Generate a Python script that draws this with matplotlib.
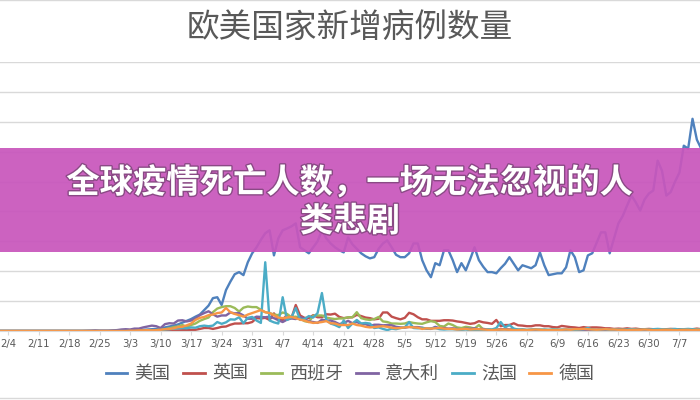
import matplotlib
matplotlib.use("Agg")
import matplotlib.pyplot as plt
import matplotlib.patheffects as pe
from matplotlib.patches import Rectangle
from matplotlib.lines import Line2D
import numpy as np

plt.rcParams['font.family'] = ['Noto Sans CJK SC', 'DejaVu Sans']

# 每日新增病例（千例），从 2/2 开始逐日
days = np.arange(-2, 160)
tick_days = np.arange(0, 155, 7)
tick_labels = ['2/4', '2/11', '2/18', '2/25', '3/3', '3/10', '3/17', '3/24',
               '3/31', '4/7', '4/14', '4/21', '4/28', '5/5', '5/12', '5/19',
               '5/26', '6/2', '6/9', '6/16', '6/23', '6/30', '7/7']

us = [0, 0, 0, 0, 0, 0, 0,
      0, 0, 0, 0, 0, 0, 0,
      0, 0, 0, 0, 0, 0, 0,
      0, 0, 0, 0, 0, 0.05, 0.1,
      0.1, 0.2, 0.2, 0.3, 0.3, 0.4, 0.5,
      0.6, 0.7, 0.9, 1.2, 1.5, 1.8, 2.2,
      2.8, 3.4, 4.0, 4.8, 5.5, 7.0, 8.5,
      11.0, 11.3, 8.7, 13.7, 16.5, 19.0, 19.7,
      18.7, 23.0, 26.0, 28.0, 30.5, 32.7, 33.7,
      25.3, 31.0, 33.7, 34.3, 35.0, 36.0, 28.0,
      27.0, 26.0, 28.0, 30.0, 33.7, 31.0, 29.3,
      28.0, 27.0, 26.3, 31.3, 29.0, 27.5, 26.0,
      25.0, 24.3, 24.7, 27.5, 29.3, 30.3, 28.0,
      25.5, 24.7, 24.7, 26.0, 29.3, 29.3, 23.7,
      20.3, 18.0, 22.7, 22.0, 27.0, 27.0, 23.7,
      19.7, 22.7, 20.3, 24.0, 28.0, 23.7, 21.5,
      19.7, 19.7, 19.3, 21.0, 22.5, 24.7, 22.5,
      20.3, 22.0, 21.5, 21.0, 22.0, 26.3, 22.0,
      18.7, 19.0, 19.3, 19.3, 21.3, 27.0, 24.7,
      19.7, 20.3, 25.3, 26.0, 29.5, 33.0, 33.0,
      26.0, 31.0, 36.0, 38.5, 42.0, 45.3, 43.0,
      40.3, 44.0, 46.0, 47.0, 57.0, 53.6, 45.3,
      46.5, 50.0, 53.0, 62.0, 61.0, 71.0, 64.0,
      61.0]

uk = [0, 0, 0, 0, 0, 0, 0,
      0, 0, 0, 0, 0, 0, 0,
      0, 0, 0, 0, 0, 0, 0,
      0, 0, 0, 0, 0, 0, 0,
      0, 0, 0, 0, 0.05, 0.05, 0.05,
      0.05, 0.05, 0.1, 0.1, 0.1, 0.15, 0.2,
      0.25, 0.3, 0.4, 0.4, 0.7, 1.0, 1.0,
      0.7, 1.0, 1.4, 1.5, 2.1, 2.5, 2.5,
      2.6, 2.6, 3.0, 4.3, 4.2, 4.4, 3.7,
      5.9, 3.8, 3.6, 5.5, 4.3, 8.7, 5.2,
      4.4, 4.3, 5.3, 4.6, 4.6, 5.6, 5.5,
      5.8, 4.7, 4.3, 4.5, 4.6, 5.4, 5.0,
      4.5, 4.3, 3.9, 4.1, 6.2, 6.2, 4.8,
      4.3, 3.9, 4.4, 6.1, 5.6, 4.6, 3.9,
      3.9, 3.4, 3.4, 3.4, 3.6, 3.6, 3.5,
      3.2, 3.0, 2.7, 2.4, 2.6, 3.3, 2.9,
      2.7, 2.4, 3.7, 1.6, 2.0, 2.0, 2.6,
      1.9, 1.8, 1.6, 1.6, 1.9, 1.9, 1.6,
      1.6, 1.3, 1.2, 1.7, 1.5, 1.3, 1.2,
      1.0, 1.3, 1.1, 1.2, 1.2, 1.1, 0.9,
      0.9, 0.7, 0.8, 0.7, 0.9, 0.7, 0.8,
      0.6, 0.6, 0.7, 0.6, 0.6, 0.5, 0.6,
      0.7, 0.6, 0.6, 0.5, 0.6, 0.6, 0.8,
      0.6]

spain = [0, 0, 0, 0, 0, 0, 0,
         0, 0, 0, 0, 0, 0, 0,
         0, 0, 0, 0, 0, 0, 0,
         0, 0, 0, 0, 0, 0, 0,
         0, 0, 0, 0, 0, 0.05, 0.1,
         0.2, 0.2, 0.6, 0.6, 0.9, 1.3, 1.5,
         2.0, 1.4, 2.0, 2.5, 3.4, 4.0, 4.5,
         6.3, 7.5, 8.0, 8.3, 8.3, 7.7, 6.5,
         7.8, 8.2, 8.0, 8.0, 7.1, 6.3, 6.0,
         5.5, 5.3, 6.2, 5.7, 4.6, 4.8, 4.2,
         3.3, 3.0, 5.1, 5.2, 5.2, 4.5, 4.2,
         4.0, 4.2, 4.2, 4.6, 4.6, 6.3, 4.3,
         3.9, 3.7, 4.0, 4.7, 3.2, 3.0, 2.5,
         2.5, 2.4, 2.5, 3.0, 2.7, 2.5, 2.4,
         2.9, 3.3, 3.0, 1.7, 1.5, 2.5, 2.0,
         1.2, 1.0, 1.4, 1.2, 0.8, 2.0, 0.5,
         0.4, 0.4, 0.3, 0.5, 0.6, 0.4, 0.7,
         0.4, 0.3, 0.3, 0.4, 0.3, 0.4, 0.4,
         0.3, 0.5, 0.4, 0.3, 0.4, 0.4, 0.3,
         0.3, 0.3, 0.3, 0.4, 0.3, 0.3, 0.4,
         0.3, 0.4, 0.3, 0.4, 0.3, 0.4, 0.4,
         0.3, 0.3, 0.3, 0.4, 0.4, 0.4, 0.4,
         0.4, 0.3, 0.4, 0.4, 0.4, 0.5, 0.5,
         0.5]

italy = [0, 0, 0, 0, 0, 0, 0,
         0, 0, 0, 0, 0, 0, 0,
         0, 0, 0, 0, 0, 0, 0.05,
         0.1, 0.2, 0.1, 0.1, 0.1, 0.2, 0.3,
         0.5, 0.6, 0.5, 0.8, 0.8, 1.2, 1.5,
         1.8, 1.6, 1.0, 2.3, 2.6, 2.5, 3.5,
         3.6, 3.2, 3.5, 4.2, 5.3, 6.0, 6.6,
         5.6, 4.8, 5.2, 5.2, 6.2, 5.9, 6.0,
         5.2, 4.1, 4.1, 4.8, 4.7, 4.6, 4.8,
         4.3, 3.6, 3.0, 3.8, 4.2, 4.0, 4.7,
         4.1, 3.2, 3.0, 2.7, 3.8, 3.5, 3.5,
         3.0, 2.3, 2.7, 3.4, 2.6, 3.0, 2.4,
         2.3, 1.7, 2.1, 2.1, 1.9, 2.0, 1.9,
         1.4, 1.2, 1.1, 1.4, 1.3, 1.3, 1.1,
         0.8, 0.7, 1.4, 0.9, 1.0, 0.8, 0.9,
         0.7, 0.5, 0.8, 0.7, 0.9, 0.6, 0.7,
         0.5, 0.3, 0.4, 0.6, 0.6, 0.5, 0.4,
         0.4, 0.3, 0.2, 0.3, 0.3, 0.4, 0.2,
         0.3, 0.2, 0.3, 0.3, 0.3, 0.3, 0.3,
         0.2, 0.2, 0.3, 0.3, 0.3, 0.3, 0.2,
         0.1, 0.2, 0.2, 0.2, 0.2, 0.1, 0.1,
         0.2, 0.2, 0.2, 0.2, 0.2, 0.2, 0.1,
         0.2, 0.2, 0.1, 0.2, 0.3, 0.2, 0.2,
         0.2]

france = [0, 0, 0, 0, 0, 0, 0,
          0, 0, 0, 0, 0, 0, 0,
          0, 0, 0, 0, 0, 0, 0,
          0, 0, 0, 0, 0, 0, 0,
          0, 0, 0, 0, 0, 0.1, 0.2,
          0.2, 0.3, 0.4, 0.5, 0.6, 0.8, 0.9,
          1.0, 0.9, 1.2, 1.1, 1.6, 1.8, 1.6,
          1.8, 3.0, 2.4, 2.9, 3.9, 3.8, 4.6,
          2.6, 4.4, 4.7, 3.5, 2.7, 23.0, 3.5,
          2.9, 2.5, 11.3, 3.7, 4.5, 7.7, 3.7,
          4.0, 5.0, 4.5, 6.0, 12.7, 3.7, 2.5,
          2.0, 1.3, 3.5, 1.0, 2.5, 3.7, 2.5,
          2.7, 2.5, 1.0, 1.2, 0.7, 0.3, 0.8,
          0.6, 1.0, 1.2, 3.0, 1.0, 0.9, 1.0,
          0.8, 0.9, 1.0, 0.6, 0.5, 0.6, 0.6,
          0.5, 0.4, 0.5, 0.3, 0.2, 0.3, 0.2,
          0.6, 0.5, 1.0, 3.0, 1.2, 2.0, 0.8,
          0.5, 0.6, 0.4, 0.5, 0.6, 0.4, 0.5,
          0.4, 0.5, 0.4, 0.5, 0.5, 0.4, 0.3,
          0.5, 0.6, 1.0, 0.5, 0.3, 0.5, 0.6,
          0.4, 0.5, 0.5, 0.4, 0.5, 0.6, 0.5,
          0.4, 0.6, 0.5, 0.6, 0.7, 0.6, 0.5,
          0.6, 0.7, 0.5, 0.6, 0.7, 0.6, 0.5,
          0.6]

germany = [0, 0, 0, 0, 0, 0, 0,
           0, 0, 0, 0, 0, 0, 0,
           0, 0, 0, 0, 0, 0, 0,
           0, 0, 0, 0, 0, 0, 0,
           0, 0, 0.1, 0.1, 0.2, 0.2, 0.3,
           0.2, 0.3, 0.4, 0.6, 0.7, 0.9, 1.3,
           1.4, 1.9, 2.5, 3.7, 4.4, 4.7, 5.3,
           5.5, 6.0, 6.2, 7.7, 6.3, 5.7, 5.3,
           4.8, 5.5, 6.0, 6.5, 7.0, 6.3, 6.0,
           5.3, 4.5, 4.3, 4.5, 4.7, 4.3, 3.8,
           3.5, 3.0, 2.7, 2.8, 3.0, 3.3, 2.6,
           2.5, 2.0, 2.0, 2.0, 2.5, 2.0, 1.8,
           1.4, 1.2, 1.3, 1.5, 1.6, 1.4, 1.1,
           0.9, 1.0, 1.2, 1.3, 1.2, 1.1, 0.7,
           0.9, 0.8, 0.9, 1.0, 0.8, 0.7, 0.7,
           0.5, 0.6, 0.7, 0.5, 0.6, 0.6, 0.5,
           0.4, 0.3, 0.4, 0.5, 0.5, 0.4, 0.3,
           0.3, 0.4, 0.3, 0.4, 0.5, 0.4, 0.3,
           0.3, 0.3, 0.3, 0.4, 0.5, 0.4, 0.6,
           0.6, 0.7, 0.6, 0.5, 0.4, 0.5, 0.6,
           0.5, 0.5, 0.4, 0.4, 0.3, 0.4, 0.4,
           0.4, 0.5, 0.4, 0.3, 0.3, 0.4, 0.4,
           0.4, 0.3, 0.3, 0.4, 0.4, 0.3, 0.4,
           0.4]

series = [('美国', us, '#4f81bd'), ('英国', uk, '#c0504d'),
          ('西班牙', spain, '#9bbb59'), ('意大利', italy, '#8064a2'),
          ('法国', france, '#4bacc6'), ('德国', germany, '#f79646')]

fig = plt.figure(figsize=(7, 4), dpi=100)
ax = fig.add_axes([0, 69 / 400, 1, 269 / 400])

for name, vals, col in series:
    ax.plot(days, vals, color=col, lw=1.7, label=name, solid_joinstyle='round')

ax.set_xlim(-8 / 4.36, 692 / 4.36)
ax.set_ylim(0, 90)
ax.set_yticks(np.arange(0, 91, 10))
ax.grid(axis='y', color='#d9d9d9', lw=1)
ax.set_axisbelow(True)
ax.tick_params(axis='y', left=False, labelleft=False)
ax.set_xticks(tick_days)
ax.set_xticklabels(tick_labels, fontsize=7.3, color='#595959', family='DejaVu Sans')
ax.tick_params(axis='x', length=3, color='#d9d9d9', pad=3)
for s in ['top', 'left', 'right']:
    ax.spines[s].set_visible(False)
ax.spines['bottom'].set_color('#d9d9d9')

fig.text(0.5, 1 - 28 / 400, '欧美国家新增病例数量', ha='center', va='center',
         fontsize=23.5, color='#595959')

handles = [Line2D([], [], color=c, lw=2) for _, _, c in series]
fig.legend(handles, [n for n, _, _ in series], loc='center', ncol=6,
           bbox_to_anchor=(0.5, 26 / 400), frameon=False, fontsize=13,
           labelcolor='#595959', handlelength=1.2, handletextpad=0.4,
           columnspacing=0.7)

# 顶部与底部的图表边框
fig.add_artist(Line2D([0, 1], [0.999, 0.999], color='#d9d9d9', lw=1))
fig.add_artist(Line2D([0, 1], [2.5 / 400, 2.5 / 400], color='#d9d9d9', lw=1))

# 标题横幅
fig.add_artist(Rectangle((0, 148 / 400), 1, 104 / 400, transform=fig.transFigure,
                         facecolor='#c856bc', alpha=0.93, edgecolor='none', zorder=10))
shadow = [pe.withStroke(linewidth=2, foreground='#8a4a85')]
fig.text(0.5, 1 - 183 / 400, '全球疫情死亡人数，一场无法忽视的人', ha='center',
         va='center', fontsize=24, color='white', weight='bold', zorder=11,
         path_effects=shadow)
fig.text(0.5, 1 - 222 / 400, '类悲剧', ha='center', va='center', fontsize=24,
         color='white', weight='bold', zorder=11, path_effects=shadow)

fig.savefig('out.png', dpi=100)
